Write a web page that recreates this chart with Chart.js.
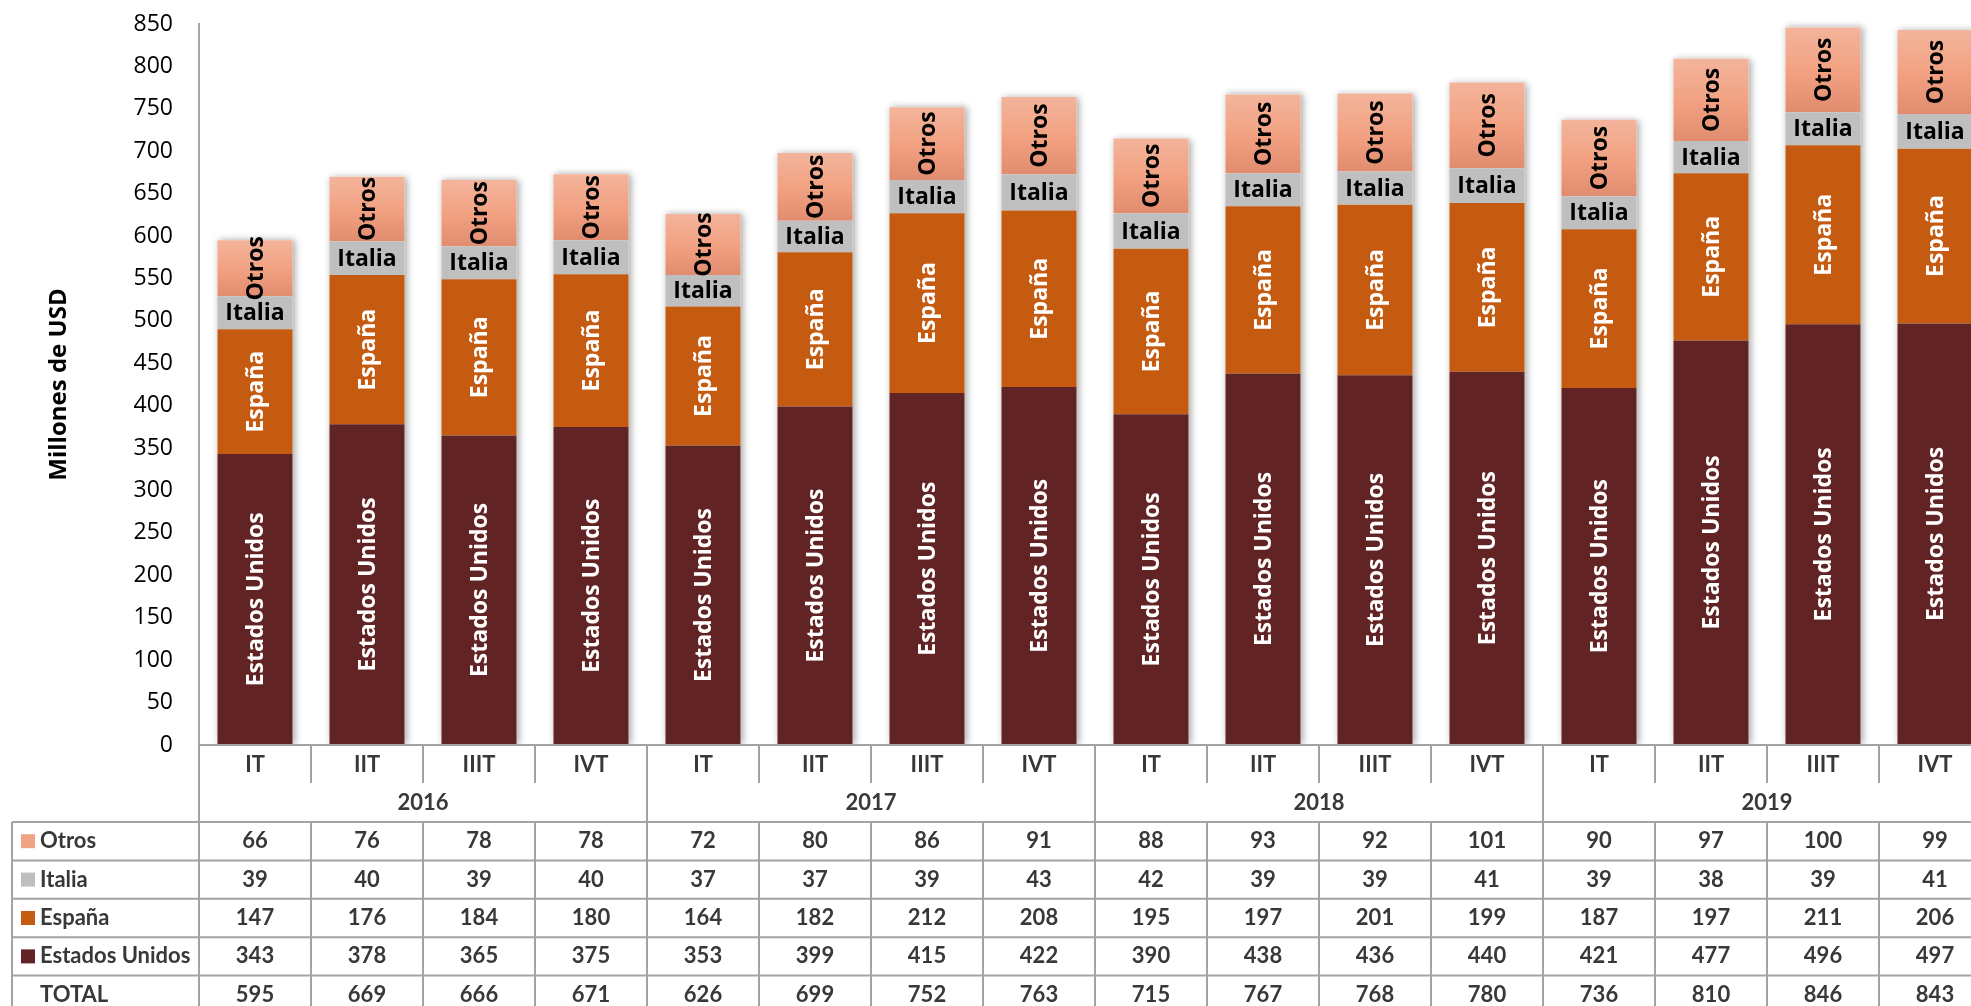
<!DOCTYPE html>
<html>
<head>
<meta charset="utf-8">
<script src="https://cdn.jsdelivr.net/npm/chart.js@4.4.1/dist/chart.umd.min.js"></script>
<style>
  html, body { margin: 0; padding: 0; background: #ffffff; overflow: hidden; }
  #chart { display: block; }
</style>
</head>
<body>
<canvas id="chart" width="2000" height="1006" style="width:2000px;height:1006px"></canvas>
<script>
const quarters = ["IT", "IIT", "IIIT", "IVT", "IT", "IIT", "IIIT", "IVT",
                  "IT", "IIT", "IIIT", "IVT", "IT", "IIT", "IIIT", "IVT"];
const years = ["2016", "2017", "2018", "2019"];

const otros = [66, 76, 78, 78, 72, 80, 86, 91, 88, 93, 92, 101, 90, 97, 100, 99];
const italia = [39, 40, 39, 40, 37, 37, 39, 43, 42, 39, 39, 41, 39, 38, 39, 41];
const espana = [147, 176, 184, 180, 164, 182, 212, 208, 195, 197, 201, 199, 187, 197, 211, 206];
const eeuu = [343, 378, 365, 375, 353, 399, 415, 422, 390, 438, 436, 440, 421, 477, 496, 497];
const totales = [595, 669, 666, 671, 626, 699, 752, 763, 715, 767, 768, 780, 736, 810, 846, 843];

const yTicks = [0, 50, 100, 150, 200, 250, 300, 350, 400, 450, 500, 550, 600, 650, 700, 750, 800, 850];

const colEEUU = "#622325";
const colEspana = "#C55A11";
const colItalia = "#BFBFBF";
const colOtros = "#F2A385";

function otrosFill(c) {
    const chart = c.chart;
    const y = chart.scales && chart.scales.y;
    if (!y || c.dataIndex === undefined) return colOtros;
    const i = c.dataIndex;
    const base = eeuu[i] + espana[i] + italia[i];
    const top = y.getPixelForValue(base + otros[i]);
    const bot = y.getPixelForValue(base);
    if (!isFinite(top) || !isFinite(bot)) return colOtros;
    const g = chart.ctx.createLinearGradient(0, top, 0, bot);
    g.addColorStop(0, "#F3B49B");
    g.addColorStop(0.5, "#F2A283");
    g.addColorStop(1, "#E18C6F");
    return g;
}

// sombra suave detrás de cada columna apilada
const stackShadow = {
    id: "stackShadow",
    beforeDatasetsDraw(chart) {
        const ctx = chart.ctx;
        const last = chart.data.datasets.length - 1;
        const topMeta = chart.getDatasetMeta(last);
        const baseMeta = chart.getDatasetMeta(0);
        ctx.save();
        ctx.beginPath();
        ctx.rect(chart.chartArea.left + 1, chart.chartArea.top - 20, chart.chartArea.width, chart.chartArea.height + 19);
        ctx.clip();
        ctx.shadowColor = "rgba(0,0,0,0.35)";
        ctx.shadowBlur = 7;
        ctx.shadowOffsetX = 2;
        ctx.fillStyle = "#ffffff";
        topMeta.data.forEach(function(bar, i) {
            const p = bar.getProps(["x", "y", "width"], true);
            const b = baseMeta.data[i].getProps(["base"], true);
            ctx.fillRect(p.x - p.width / 2, p.y, p.width, b.base - p.y);
        });
        ctx.restore();
    }
};

// texto dentro de las barras
const barLabels = {
    id: "barLabels",
    afterDatasetsDraw(chart) {
        const ctx = chart.ctx;
        chart.data.datasets.forEach(function(ds, di) {
            const meta = chart.getDatasetMeta(di);
            meta.data.forEach(function(bar) {
                const p = bar.getProps(["x", "y", "base"], true);
                const cy = (p.y + p.base) / 2;
                ctx.save();
                ctx.translate(p.x, cy);
                if (ds.rotateLabel) ctx.rotate(-Math.PI / 2);
                ctx.fillStyle = ds.labelColor;
                ctx.font = "bold 23px 'Open Sans'";
                ctx.textAlign = "center";
                ctx.textBaseline = "middle";
                ctx.fillText(ds.label, 0, 1);
                ctx.restore();
            });
        });
    }
};

// tabla de datos bajo el eje
const dataTable = {
    id: "dataTable",
    afterDraw(chart) {
        const ctx = chart.ctx;
        const x = chart.scales.x;
        const area = chart.chartArea;
        const w = x.getPixelForValue(1) - x.getPixelForValue(0);
        const left = (i) => x.getPixelForValue(i) - w / 2;
        const n = quarters.length;
        const right = left(n);
        const y0 = area.bottom;
        const yQ = y0 + 38;
        const yY = y0 + 77;
        const rowH = 38.4;
        const tableLeft = 12;

        ctx.save();
        ctx.strokeStyle = "#A3A3A3";
        ctx.lineWidth = 2;
        ctx.beginPath();
        ctx.moveTo(area.left, y0); ctx.lineTo(right, y0);
        for (let r = 0; r <= 5; r++) {
            const yy = yY + r * rowH;
            ctx.moveTo(tableLeft, yy); ctx.lineTo(right, yy);
        }
        ctx.moveTo(tableLeft, yY); ctx.lineTo(tableLeft, yY + 6 * rowH);
        for (let i = 0; i <= n; i++) {
            const xx = left(i);
            if (i % 4 === 0) {
                ctx.moveTo(xx, y0); ctx.lineTo(xx, yY + 6 * rowH);
            } else {
                ctx.moveTo(xx, y0); ctx.lineTo(xx, yQ);
                ctx.moveTo(xx, yY); ctx.lineTo(xx, yY + 6 * rowH);
            }
        }
        ctx.stroke();

        ctx.fillStyle = "#383838";
        ctx.font = "bold 22px Lato";
        ctx.textAlign = "center";
        ctx.textBaseline = "middle";
        for (let i = 0; i < n; i++) {
            ctx.fillText(quarters[i], x.getPixelForValue(i), y0 + 20);
        }
        for (let k = 0; k < years.length; k++) {
            const cx = (left(k * 4) + left(k * 4 + 4)) / 2;
            ctx.fillText(years[k], cx, yQ + 20);
        }

        const rows = [
            { name: "Otros", color: colOtros, vals: otros },
            { name: "Italia", color: colItalia, vals: italia },
            { name: "España", color: colEspana, vals: espana },
            { name: "Estados Unidos", color: colEEUU, vals: eeuu },
            { name: "TOTAL", color: null, vals: totales }
        ];
        rows.forEach(function(row, r) {
            const cy = yY + r * rowH + rowH / 2;
            if (row.color) {
                ctx.fillStyle = row.color;
                ctx.fillRect(21, cy - 7, 14, 14);
            }
            ctx.fillStyle = "#383838";
            ctx.textAlign = "left";
            ctx.fillText(row.name, 40, cy);
            ctx.textAlign = "center";
            for (let i = 0; i < n; i++) {
                ctx.fillText(String(row.vals[i]), x.getPixelForValue(i), cy);
            }
        });
        ctx.restore();
    }
};

new Chart(document.getElementById("chart"), {
    type: "bar",
    data: {
        labels: quarters,
        datasets: [
            { label: "Estados Unidos", data: eeuu, backgroundColor: colEEUU,
              rotateLabel: true, labelColor: "#ffffff" },
            { label: "España", data: espana, backgroundColor: colEspana,
              rotateLabel: true, labelColor: "#ffffff" },
            { label: "Italia", data: italia, backgroundColor: colItalia,
              rotateLabel: false, labelColor: "#000000" },
            { label: "Otros", data: otros, backgroundColor: otrosFill,
              rotateLabel: true, labelColor: "#000000" }
        ]
    },
    options: {
        responsive: false,
        animation: false,
        devicePixelRatio: 1,
        categoryPercentage: 1,
        barPercentage: 0.67,
        layout: { padding: { top: 24, right: 9, bottom: 261, left: 0 } },
        plugins: {
            legend: { display: false },
            tooltip: { enabled: false }
        },
        scales: {
            x: {
                stacked: true,
                display: false
            },
            y: {
                stacked: true,
                min: 0,
                max: 850,
                afterBuildTicks(scale) {
                    scale.ticks = yTicks.map(v => ({ value: v }));
                },
                afterFit(scale) { scale.width = 199; },
                // marcas invisibles para separar las etiquetas del eje
                grid: { display: true, drawOnChartArea: false, drawTicks: true,
                        tickLength: 26, color: "rgba(0,0,0,0)" },
                border: { display: true, color: "#A6A6A6", width: 2 },
                ticks: {
                    padding: 0,
                    color: "#000000",
                    font: { family: "'Open Sans'", size: 23 }
                },
                title: {
                    display: true,
                    text: "Millones de USD",
                    color: "#000000",
                    padding: { top: 45, bottom: 0 },
                    font: { family: "'Open Sans'", size: 24, weight: "bold" }
                }
            }
        }
    },
    plugins: [stackShadow, barLabels, dataTable]
});
</script>
</body>
</html>
